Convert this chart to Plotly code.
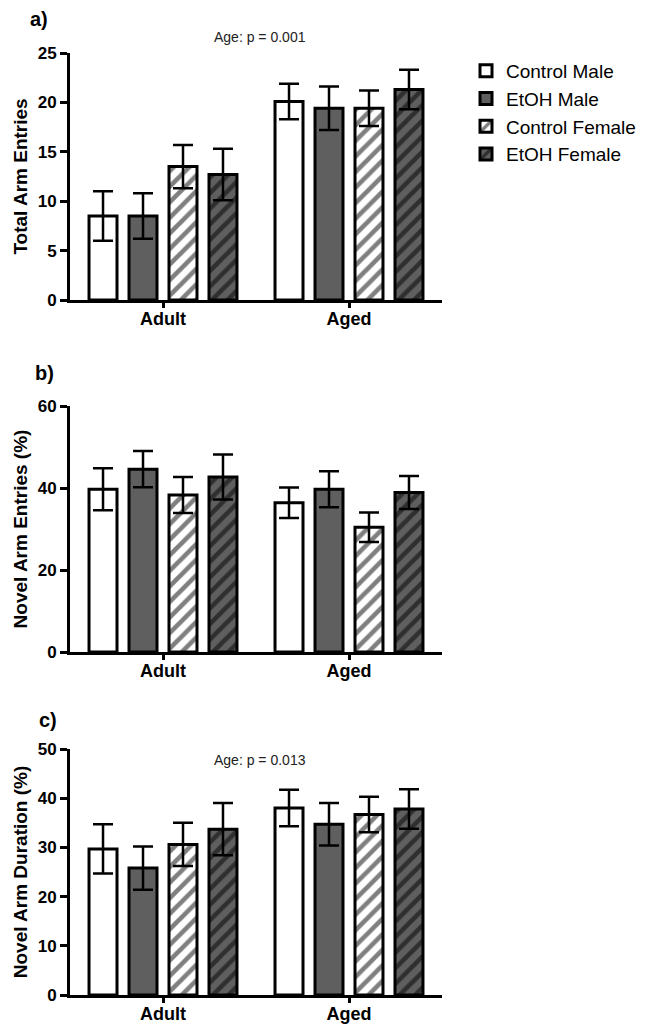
import plotly.graph_objects as go
from plotly.subplots import make_subplots

ages = ['Adult', 'Aged']
groups = ['Control Male', 'EtOH Male', 'Control Female', 'EtOH Female']

# mean and SEM per group, [Adult, Aged]
total_entries = {
    'Control Male': [8.5, 20.1],
    'EtOH Male': [8.5, 19.4],
    'Control Female': [13.5, 19.4],
    'EtOH Female': [12.7, 21.3],
}
total_entries_err = {
    'Control Male': [2.5, 1.8],
    'EtOH Male': [2.3, 2.2],
    'Control Female': [2.2, 1.8],
    'EtOH Female': [2.6, 2.0],
}
novel_entries = {
    'Control Male': [39.7, 36.4],
    'EtOH Male': [44.6, 39.7],
    'Control Female': [38.3, 30.4],
    'EtOH Female': [42.7, 38.9],
}
novel_entries_err = {
    'Control Male': [5.1, 3.7],
    'EtOH Male': [4.4, 4.4],
    'Control Female': [4.4, 3.6],
    'EtOH Female': [5.5, 4.0],
}
novel_duration = {
    'Control Male': [29.7, 38.0],
    'EtOH Male': [25.8, 34.7],
    'Control Female': [30.6, 36.7],
    'EtOH Female': [33.7, 37.8],
}
novel_duration_err = {
    'Control Male': [5.0, 3.7],
    'EtOH Male': [4.4, 4.3],
    'Control Female': [4.4, 3.6],
    'EtOH Female': [5.3, 4.0],
}

panels = [
    ('a)', 'Total Arm Entries', total_entries, total_entries_err, [0, 25], 5, 'Age: p = 0.001'),
    ('b)', 'Novel Arm Entries (%)', novel_entries, novel_entries_err, [0, 60], 20, None),
    ('c)', 'Novel Arm Duration (%)', novel_duration, novel_duration_err, [0, 50], 10, 'Age: p = 0.013'),
]

GRAY = '#5f5f5f'
fills = {'Control Male': 'white', 'EtOH Male': GRAY, 'Control Female': 'white', 'EtOH Female': GRAY}
hatched = {'Control Male': False, 'EtOH Male': False, 'Control Female': True, 'EtOH Female': True}

# the page body has an 8px margin, so the figure is 16px smaller than the window
W, H = 634, 1016
L, PW = 62, 372
# pixel boxes of each plot area: (top, bottom), and where the panel letter sits
boxes = [(45, 292), (398, 644), (741, 987)]
tag_x = [20, 25, 29]
tag_y = [11, 365, 712]
note_y = [29, None, 752]

fig = make_subplots(rows=3, cols=1)

for i, (tag, ytitle, data, err, yr, dtick, note) in enumerate(panels):
    row = i + 1
    for g in groups:
        pat = dict(shape='/', fgcolor='black', bgcolor=fills[g], size=11, solidity=0.42) if hatched[g] else dict(shape='')
        fig.add_trace(
            go.Bar(x=ages, y=data[g], name=g, legendgroup=g, showlegend=(row == 1),
                   marker=dict(color=fills[g], line=dict(color='black', width=3), pattern=pat),
                   error_y=dict(type='data', array=err[g], color='black', thickness=2.5, width=10)),
            row=row, col=1)
    top, bot = boxes[i]
    fig.update_yaxes(domain=[1 - bot / H, 1 - top / H], range=yr, dtick=dtick, row=row, col=1)
    fig.add_annotation(text=tag, xref='paper', yref='paper', x=(tag_x[i] - L) / PW, y=1 - tag_y[i] / H,
                       xanchor='left', yanchor='middle', showarrow=False,
                       font=dict(size=20, weight='bold', color='black'))
    if note:
        fig.add_annotation(text=note, xref='paper', yref='paper', x=(252 - L) / PW, y=1 - note_y[i] / H,
                           xanchor='center', yanchor='middle', showarrow=False,
                           font=dict(size=14, color='#222'))
    fig.update_yaxes(title=dict(text=ytitle, standoff=6, font=dict(size=19, weight='bold', color='black')),
                     row=row, col=1)

fig.update_yaxes(showline=True, linecolor='black', linewidth=3, ticks='outside', ticklen=7, tickwidth=3,
                 tickcolor='black', showgrid=False, zeroline=False, automargin=False,
                 tickfont=dict(size=17, weight='bold', color='black'))
fig.update_xaxes(type='category', range=[-0.5, 1.5], showline=True, linecolor='black', linewidth=3,
                 ticks='outside', ticklen=5, tickwidth=3, tickcolor='black', showgrid=False, automargin=False,
                 ticklabelstandoff=-5,
                 tickfont=dict(size=18, weight='bold', color='black'))

fig.update_layout(
    width=W, height=H,
    margin=dict(l=L, r=W - L - PW, t=0, b=0, autoexpand=False),
    barmode='group', bargap=0.14, bargroupgap=0.3,
    plot_bgcolor='white', paper_bgcolor='white',
    font=dict(family='Liberation Sans, Arial, sans-serif', color='black'),
    legend=dict(x=(458 - L) / PW, y=1 - 44 / H, xanchor='left', yanchor='top',
                font=dict(size=19, color='black'), tracegroupgap=0, itemwidth=30),
)

fig.write_html("out.html")
